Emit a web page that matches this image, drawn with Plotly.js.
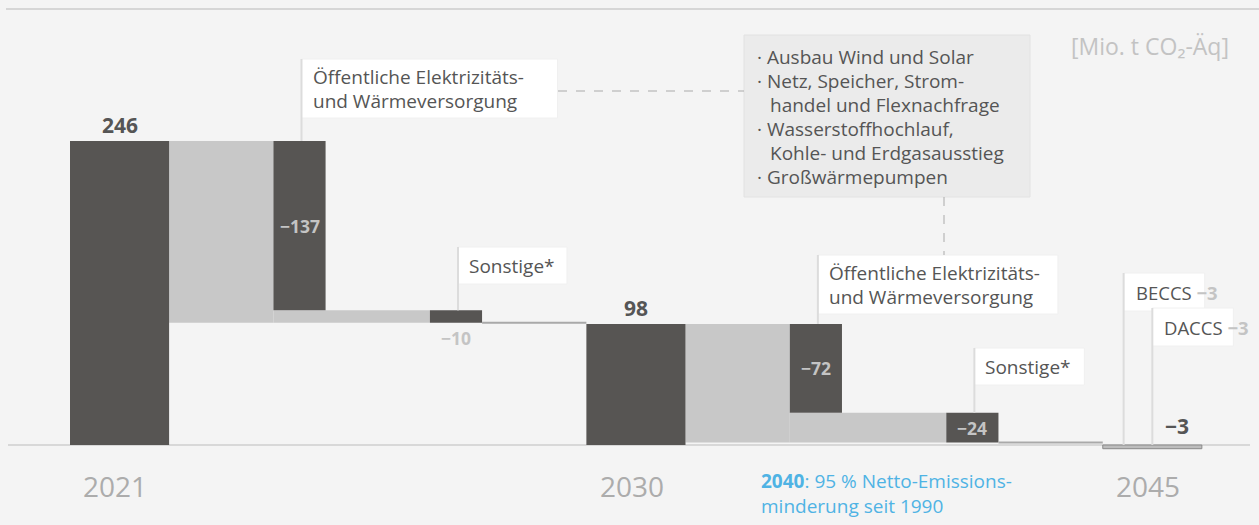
<!DOCTYPE html>
<html>
<head>
<meta charset="utf-8">
<script src="https://cdn.plot.ly/plotly-3.0.1.min.js"></script>
<style>html,body{margin:0;padding:0;background:#f4f4f4}</style>
</head>
<body>
<div id="chart" style="width:1259px;height:525px"></div>
<script>
// Daten (Mio. t CO2-Äq)
const years = ['2021', '2030', '2045'];
const totals = [246, 98, -3];
const steps2030 = [-137, -10];
const steps2045 = [-72, -24];
const stepNames = ['Öffentliche Elektrizitäts-|und Wärmeversorgung', 'Sonstige*'];
const removalNames = ['BECCS', 'DACCS'];
const removals = [-3, -3];
const measures = ['Ausbau Wind und Solar', 'Netz, Speicher, Strom-|handel und Flexnachfrage',
  'Wasserstoffhochlauf,|Kohle- und Erdgasausstieg', 'Großwärmepumpen'];

// Geometrie
const W = 1259, H = 525;
const X0 = 70, UX = 52.16;        // px pro Breiteneinheit
const Y0 = 445, UY = 304 / 246;   // px pro Mio. t
const MT = 9, MB = 0;
const fx = px => (px - X0) / UX;
const fy = py => (Y0 - py) / UY;
const TOTAL_W = 1.9, STEP_W = 1, GAP = 2, PERIOD = 9.9;

const DARK = '#575553', LIGHT = '#c8c8c8', TXT = '#555555', LBL = '#c4c4c4';
const FONT = '"Open Sans", sans-serif';
const FS = 19;

const light = { x: [], width: [], base: [], y: [] };
const dark = { x: [], width: [], base: [], y: [] };
const levelLines = [];
const shapes = [], annotations = [];

function addBar(t, x0, x1, lo, hi) {
  t.x.push((x0 + x1) / 2); t.width.push(x1 - x0); t.base.push(lo); t.y.push(hi - lo);
}
const fmt = v => '\u2212' + Math.abs(v);

function text(x, y, s, font, xanchor, yanchor, yshift) {
  annotations.push({ x, y, xref: 'x', yref: 'y', text: s, showarrow: false,
    xanchor: xanchor || 'center', yanchor: yanchor || 'middle', yshift: yshift || 0,
    font: Object.assign({ family: FONT, color: TXT, size: FS }, font) });
}
function rect(px0, py0, px1, py1, fill, line) {
  shapes.push({ type: 'rect', xref: 'x', yref: 'y', x0: fx(px0), x1: fx(px1), y0: fy(py0), y1: fy(py1),
    fillcolor: fill, line: { color: line, width: 1 } });
}
function vline(x, y0, y1, color, dash) {
  shapes.push({ type: 'line', xref: 'x', yref: 'y', x0: x, x1: x, y0, y1,
    line: { color: color || '#dcdcdc', width: dash ? 1 : 2, dash: dash || 'solid' } });
}

// Summenbalken
for (let p = 0; p < 2; p++) {
  const s = p * PERIOD;
  addBar(dark, s, s + TOTAL_W, 0, totals[p]);
  text(s + TOTAL_W / 2, totals[p], '<b>' + totals[p] + '</b>', { size: 21 }, 'center', 'bottom', 0);
}

// Veränderungen
const periodSteps = [steps2030, steps2045];
const boxTops = [[59, 247], [255, 348]];
const boxWidths = [[256, 109], [240, 110]];
for (let p = 0; p < 2; p++) {
  const s = p * PERIOD, steps = periodSteps[p];
  const L = [totals[p]];
  steps.forEach(v => L.push(L[L.length - 1] + v));
  const end = L[L.length - 1];
  addBar(light, s + TOTAL_W, s + TOTAL_W + GAP, end, L[0]);
  addBar(light, s + TOTAL_W + GAP, s + TOTAL_W + 2 * GAP + STEP_W, end, L[1]);
  steps.forEach((v, i) => {
    const xs = s + TOTAL_W + GAP + i * (GAP + STEP_W);
    addBar(dark, xs, xs + STEP_W, L[i + 1], L[i]);
    if ((L[i] - L[i + 1]) * UY > 20) {
      text(xs + STEP_W / 2, (L[i] + L[i + 1]) / 2, '<b>' + fmt(v) + '</b>', { size: 17.5, color: LBL });
    } else {
      text(xs + STEP_W / 2, L[i + 1], '<b>' + fmt(v) + '</b>', { size: 17.5, color: LBL }, 'center', 'top', -1);
    }
    // Beschriftungsbox
    const lx = xs + STEP_W / 2 + 2 / UX, lpx = X0 + lx * UX;
    const top = boxTops[p][i], lines = stepNames[i].split('|');
    const h = lines.length > 1 ? 59 : 37;
    rect(lpx, top, lpx + boxWidths[p][i], top + h, '#ffffff', '#f0f0f0');
    vline(lx, fy(top), L[i]);
    lines.forEach((t, k) => text(fx(lpx + 9), fy(top + (lines.length > 1 ? 18 + 23.5 * k : 18.5)), t, {}, 'left'));
  });
  levelLines.push({ x: [s + TOTAL_W + 2 * GAP + 2 * STEP_W, (p + 1) * PERIOD], y: [end, end] });
}

// 2045
const s3 = 2 * PERIOD;
text(s3 + TOTAL_W * 0.75, 0, '<b>' + fmt(totals[2]) + '</b>', { size: 21 }, 'center', 'bottom', 3);
const remX = [s3 + 0.4, s3 + 0.95], remTops = [273, 308];
removals.forEach((v, i) => {
  const lpx = X0 + remX[i] * UX, top = remTops[i];
  rect(lpx, top, lpx + 81, top + 38, '#ffffff', '#f0f0f0');
  vline(remX[i], fy(top), 0);
  text(fx(lpx + 10), fy(top + 19), removalNames[i] + ' <b><span style="color:' + LBL + '">' + fmt(v) + '</span></b>', { size: 18.5 }, 'left');
});

// Maßnahmenbox
rect(744, 35, 1030, 197, '#ebebeb', '#e2e2e2');
let row = 0;
measures.forEach(m => {
  m.split('|').forEach((t, k) => {
    text(fx(k === 0 ? 755 : 768), fy(57 + 24 * row), (k === 0 ? '· ' : '') + t, {}, 'left');
    row++;
  });
});
shapes.push({ type: 'line', xref: 'x', yref: 'y', x0: fx(558), x1: fx(744), y0: fy(91), y1: fy(91),
  line: { color: '#aaaaaa', width: 1, dash: 'dash' } });
vline(fx(944), fy(197), fy(255), '#aaaaaa', 'dash');

// Achsenbeschriftungen
years.forEach((y, p) => text(p * PERIOD + TOTAL_W / 2 - 0.08, fy(486), y, { size: 28, color: '#acacac' }));
text(fx(759), fy(481), '<b>2040</b>: 95 % Netto-Emissions-', { size: 19, color: '#4fb3e4' }, 'left');
text(fx(759), fy(506), 'minderung seit 1990', { size: 19, color: '#4fb3e4' }, 'left');
text(fx(1231), fy(46), '[Mio. t CO₂-Äq]', { size: 23, color: '#c3c3c3' }, 'right');

// Linien oben und Nulllinie
shapes.push({ type: 'line', xref: 'paper', yref: 'paper', x0: 6 / W, x1: 1, y0: 1, y1: 1,
  line: { color: '#cccccc', width: 1.5 } });
shapes.push({ type: 'line', xref: 'x', yref: 'y', x0: fx(8), x1: fx(1250), y0: 0, y1: 0, layer: 'below',
  line: { color: '#cfcfcf', width: 1.5 } });

const traces = [
  Object.assign({ type: 'bar', marker: { color: LIGHT, line: { width: 0 } } }, light),
  Object.assign({ type: 'bar', marker: { color: DARK, line: { width: 0 } } }, dark),
  { type: 'bar', x: [s3 + TOTAL_W / 2], width: [TOTAL_W], base: [0], y: [totals[2]],
    marker: { color: '#bdbdbd', line: { color: '#8a8a8a', width: 1 } } }
].concat(levelLines.map(l => ({ type: 'scatter', mode: 'lines', x: l.x, y: l.y,
  line: { color: '#a9a9a9', width: 2 } })));

const layout = {
  width: W, height: H,
  margin: { l: 0, r: 0, t: MT, b: MB, pad: 0 },
  paper_bgcolor: '#f4f4f4', plot_bgcolor: '#f4f4f4',
  showlegend: false, barmode: 'overlay', hovermode: false,
  xaxis: { range: [-X0 / UX, (W - X0) / UX], visible: false },
  yaxis: { range: [-(H - MB - Y0) / UY, (Y0 - MT) / UY], visible: false },
  shapes, annotations
};

Plotly.newPlot('chart', traces, layout, { displayModeBar: false, staticPlot: true });
</script>
</body>
</html>
